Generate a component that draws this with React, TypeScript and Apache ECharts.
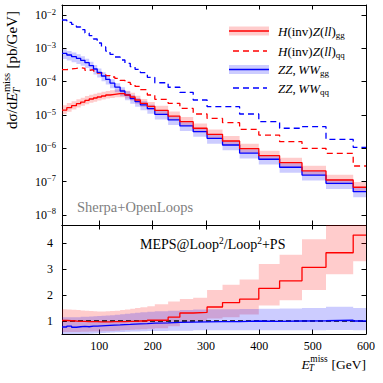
import React, { useEffect, useRef } from 'react';
import * as echarts from 'echarts';

// ---------------- data ----------------
const binEdges = [30, 39, 48, 57, 65, 73, 81, 89, 96, 104, 112, 120, 129, 139, 148, 158, 167, 177, 190, 204, 229, 251, 276, 302, 331, 363, 399, 438, 480, 525, 576, 600];

// H(inv)Z(ll) gg  [pb/GeV]
const hzGG = [1.41e-5, 1.66e-5, 1.91e-5, 2.19e-5, 2.45e-5, 2.75e-5, 3.02e-5, 3.24e-5, 3.47e-5, 3.72e-5, 3.98e-5, 4.17e-5, 4.37e-5, 4.37e-5, 3.98e-5, 3.47e-5, 2.82e-5, 2.24e-5, 1.82e-5, 1.38e-5, 9.3e-6, 6.3e-6, 4.0e-6, 2.63e-6, 1.66e-6, 9.8e-7, 6.0e-7, 3.7e-7, 2.1e-7, 1.12e-7, 6.8e-8];
const hzGGBandHi = [1.38, 1.37, 1.36, 1.35, 1.35, 1.34, 1.34, 1.34, 1.33, 1.33, 1.33, 1.33, 1.33, 1.34, 1.34, 1.35, 1.35, 1.36, 1.36, 1.37, 1.38, 1.38, 1.39, 1.4, 1.4, 1.41, 1.41, 1.42, 1.42, 1.43, 1.43];
const hzGGBandLo = [0.76, 0.76, 0.76, 0.77, 0.77, 0.77, 0.77, 0.77, 0.78, 0.78, 0.78, 0.78, 0.78, 0.78, 0.78, 0.78, 0.77, 0.77, 0.77, 0.77, 0.76, 0.76, 0.76, 0.76, 0.75, 0.75, 0.75, 0.75, 0.75, 0.74, 0.74];
// H(inv)Z(ll) qq
const hzQQ = [2.29e-4, 2.4e-4, 2.51e-4, 2.63e-4, 2.51e-4, 2.19e-4, 2.29e-4, 2.09e-4, 1.82e-4, 1.74e-4, 1.51e-4, 1.38e-4, 1.26e-4, 1.1e-4, 9.5e-5, 8.3e-5, 7.2e-5, 5.75e-5, 3.98e-5, 2.95e-5, 2.24e-5, 1.58e-5, 1.07e-5, 7.9e-6, 5.9e-6, 3.7e-6, 2.5e-6, 1.58e-6, 1.0e-6, 7.1e-7, 2.95e-7];
// ZZ,WW gg
const vvGG = [7.08e-4, 6.31e-4, 5.62e-4, 5.01e-4, 4.37e-4, 3.72e-4, 3.02e-4, 2.4e-4, 1.91e-4, 1.48e-4, 1.17e-4, 9.1e-5, 6.9e-5, 5.25e-5, 3.98e-5, 3.09e-5, 2.51e-5, 2.0e-5, 1.55e-5, 1.05e-5, 7.1e-6, 4.7e-6, 3.16e-6, 2.0e-6, 1.26e-6, 7.2e-7, 4.7e-7, 2.7e-7, 1.58e-7, 8.9e-8, 5.0e-8];
const vvGGBandHi = [1.33, 1.33, 1.33, 1.32, 1.32, 1.32, 1.31, 1.31, 1.31, 1.3, 1.3, 1.3, 1.3, 1.3, 1.3, 1.3, 1.3, 1.3, 1.3, 1.3, 1.3, 1.3, 1.3, 1.3, 1.3, 1.3, 1.31, 1.31, 1.31, 1.32, 1.32];
const vvGGBandLo = [0.68, 0.68, 0.68, 0.68, 0.69, 0.69, 0.69, 0.69, 0.7, 0.7, 0.7, 0.7, 0.7, 0.7, 0.7, 0.7, 0.7, 0.7, 0.7, 0.7, 0.7, 0.7, 0.7, 0.69, 0.69, 0.69, 0.69, 0.69, 0.68, 0.68, 0.68];
// ZZ,WW qq
const vvQQ = [7.1e-3, 6.0e-3, 5.25e-3, 4.37e-3, 3.63e-3, 2.88e-3, 2.4e-3, 1.91e-3, 1.45e-3, 1.1e-3, 8.3e-4, 6.6e-4, 5.5e-4, 4.47e-4, 3.55e-4, 2.82e-4, 2.34e-4, 1.86e-4, 1.35e-4, 9.3e-5, 6.8e-5, 4.8e-5, 2.82e-5, 1.78e-5, 1.78e-5, 1.07e-5, 6.3e-6, 4.0e-6, 4.47e-6, 1.86e-6, 1.07e-6];

// ratio MEPS@Loop2 / Loop2+PS
const ratioHZ = [1.02, 1.01, 1.0, 0.99, 0.99, 0.98, 0.98, 0.98, 0.97, 0.97, 0.97, 0.98, 0.98, 0.98, 0.99, 0.99, 1.0, 1.0, 1.03, 1.03, 1.15, 1.31, 1.33, 1.54, 1.71, 1.84, 2.26, 2.55, 3.07, 3.63, 4.31];
const ratioHZHi = [1.45, 1.44, 1.43, 1.42, 1.41, 1.4, 1.39, 1.38, 1.37, 1.37, 1.38, 1.39, 1.4, 1.42, 1.44, 1.47, 1.5, 1.53, 1.57, 1.65, 1.75, 1.85, 1.9, 2.2, 2.4, 2.6, 3.2, 3.55, 4.15, 4.9, 5.5];
const ratioHZLo = [0.58, 0.58, 0.58, 0.58, 0.59, 0.59, 0.6, 0.6, 0.6, 0.61, 0.61, 0.62, 0.63, 0.64, 0.65, 0.66, 0.67, 0.68, 0.7, 0.72, 0.8, 0.92, 1.0, 1.1, 1.15, 1.25, 1.6, 1.8, 2.2, 2.8, 3.3];
const ratioVV = [0.77, 0.8, 0.76, 0.78, 0.79, 0.78, 0.8, 0.8, 0.81, 0.82, 0.83, 0.84, 0.85, 0.86, 0.87, 0.88, 0.89, 0.9, 0.92, 0.93, 0.95, 0.96, 0.97, 0.98, 0.98, 1.0, 0.99, 1.0, 1.01, 1.03, 1.0];
const ratioVVHi = [1.15, 1.15, 1.15, 1.15, 1.16, 1.16, 1.17, 1.18, 1.19, 1.2, 1.21, 1.22, 1.24, 1.26, 1.28, 1.3, 1.32, 1.34, 1.36, 1.38, 1.4, 1.42, 1.44, 1.45, 1.45, 1.46, 1.47, 1.48, 1.5, 1.55, 1.5];
const ratioVVLo = [0.48, 0.48, 0.48, 0.49, 0.5, 0.5, 0.51, 0.52, 0.53, 0.54, 0.55, 0.56, 0.57, 0.58, 0.59, 0.6, 0.6, 0.61, 0.62, 0.62, 0.63, 0.63, 0.64, 0.64, 0.64, 0.64, 0.64, 0.64, 0.64, 0.65, 0.64];

const xRange = [30, 600];
const yRangeTop = [5e-9, 0.02];
const yRangeRatio = [0.5, 4.7];
const ratioRef = 1;

// ---------------- styles ----------------
const FONT = 'Liberation Serif';
const RED = '#ff0000';
const BLUE = '#0000ff';
const RED_BAND = 'rgba(255,0,0,0.2)';
const BLUE_BAND = 'rgba(0,0,255,0.2)';
const DASH = [6, 4];

function measure(text: string, size: number, italic = false) {
  const ctx = document.createElement('canvas').getContext('2d')!;
  ctx.font = `${italic ? 'italic ' : ''}${size}px "${FONT}"`;
  return ctx.measureText(text).width;
}

function stepData(vals: number[]) {
  const d = vals.map((v, i) => [binEdges[i], v]);
  d.push([binEdges[vals.length], vals[vals.length - 1]]);
  return d;
}

function bandSeries(lo: number[], hi: number[], color: string, axisIdx: number, anchorY: number) {
  return {
    type: 'custom',
    xAxisIndex: axisIdx,
    yAxisIndex: axisIdx,
    silent: true,
    z: 1,
    data: [[xRange[0], anchorY]],
    renderItem: (params: any, api: any) => {
      const cs = params.coordSys;
      const clampY = (p: number[]) => [p[0], Math.max(cs.y, Math.min(cs.y + cs.height, p[1]))];
      const pts: number[][] = [];
      for (let i = 0; i < hi.length; i++) {
        pts.push(clampY(api.coord([binEdges[i], hi[i]])));
        pts.push(clampY(api.coord([binEdges[i + 1], hi[i]])));
      }
      for (let i = lo.length - 1; i >= 0; i--) {
        pts.push(clampY(api.coord([binEdges[i + 1], lo[i]])));
        pts.push(clampY(api.coord([binEdges[i], lo[i]])));
      }
      return { type: 'polygon', shape: { points: pts }, style: { fill: color, stroke: 'none' } };
    },
  };
}

function lineSeries(vals: number[], color: string, dashed: boolean, axisIdx: number, z = 3) {
  return {
    type: 'line',
    xAxisIndex: axisIdx,
    yAxisIndex: axisIdx,
    step: 'end',
    showSymbol: false,
    silent: true,
    z,
    data: stepData(vals),
    lineStyle: { color, width: 1.3, type: dashed ? DASH : 'solid' },
  };
}

function txt(text: string, x: number, y: number, size: number, italic = false, fill = '#000') {
  return {
    type: 'text',
    x,
    y,
    silent: true,
    style: {
      text,
      fontSize: size,
      fontFamily: FONT,
      fontStyle: italic ? 'italic' : 'normal',
      fill,
      align: 'left',
      verticalAlign: 'middle',
    },
  };
}

// E_T^miss pieces, starting at x0, centred at y0 (local coords)
function emissPieces(x0: number, y0: number, fs: number) {
  const ss = fs * 0.7;
  const els: any[] = [];
  let x = x0;
  els.push(txt('E', x, y0, fs, true));
  x += measure('E', fs, true);
  els.push(txt('miss', x + 0.5, y0 - fs * 0.4, ss));
  els.push(txt('T', x - 1, y0 + fs * 0.32, ss, true));
  x += measure('miss', ss) + 1;
  return { els, x };
}

function buildOption() {
  const log10Rich = {
    b: { fontSize: 12, fontFamily: FONT, color: '#000', lineHeight: 16 },
    e: { fontSize: 8.5, fontFamily: FONT, color: '#000', lineHeight: 7, verticalAlign: 'top' },
  };
  const axisLine = { show: true, onZero: false, lineStyle: { color: '#000', width: 1 } };
  const axisTick = { show: true, inside: true, length: 4.5, lineStyle: { color: '#000', width: 1 } };
  const xBase = (gridIndex: number, position: string, showLabel: boolean) => ({
    type: 'value',
    gridIndex,
    position,
    min: xRange[0],
    max: xRange[1],
    splitNumber: 6,
    axisLine,
    axisTick,
    splitLine: { show: false },
    axisLabel: {
      show: showLabel,
      showMinLabel: false,
      fontSize: 12,
      fontFamily: FONT,
      color: '#000',
      margin: 6,
    },
  });
  const yTop = (position: string, showLabel: boolean) => ({
    type: 'log',
    logBase: 10,
    gridIndex: 0,
    position,
    min: yRangeTop[0],
    max: yRangeTop[1],
    axisLine,
    axisTick,
    splitLine: { show: false },
    axisLabel: {
      show: showLabel,
      showMinLabel: false,
      showMaxLabel: false,
      margin: 6,
      formatter: (v: number) => `{b|10}{e|\u2212${Math.abs(Math.round(Math.log10(v)))}}`,
      rich: log10Rich,
    },
  });
  const yBot = (position: string, showLabel: boolean) => ({
    type: 'value',
    gridIndex: 1,
    position,
    min: yRangeRatio[0],
    max: yRangeRatio[1],
    splitNumber: 4,
    axisLine,
    axisTick,
    splitLine: { show: false },
    axisLabel: {
      show: showLabel,
      showMinLabel: false,
      showMaxLabel: false,
      fontSize: 12,
      fontFamily: FONT,
      color: '#000',
      margin: 9,
    },
  });

  // legend
  const legendRich = {
    i: { fontSize: 13, fontFamily: FONT, fontStyle: 'italic', color: '#000', lineHeight: 16 },
    r: { fontSize: 13, fontFamily: FONT, color: '#000', lineHeight: 16 },
    s: { fontSize: 9, fontFamily: FONT, color: '#000', lineHeight: 9, verticalAlign: 'bottom' },
  };
  const legendRows = [
    { y: 31, color: RED, band: RED_BAND, dashed: false, text: '{i|H}{r|(inv)}{i|Z}{r|(}{i|ll}{r|)}{s|gg}' },
    { y: 51, color: RED, band: '', dashed: true, text: '{i|H}{r|(inv)}{i|Z}{r|(}{i|ll}{r|)}{s|qq}' },
    { y: 69.5, color: BLUE, band: BLUE_BAND, dashed: false, text: '{i|ZZ}{r|,\u2009}{i|WW}{s|gg}' },
    { y: 88, color: BLUE, band: '', dashed: true, text: '{i|ZZ}{r|,\u2009}{i|WW}{s|qq}' },
  ];
  const legendEls: any[] = [];
  legendRows.forEach((r) => {
    if (r.band) {
      legendEls.push({ type: 'rect', silent: true, shape: { x: 229, y: r.y - 4.5, width: 40, height: 9 }, style: { fill: r.band } });
    }
    legendEls.push({
      type: 'line',
      silent: true,
      shape: { x1: r.dashed ? 233 : 229, y1: r.y, x2: r.dashed ? 267 : 269, y2: r.y },
      style: { stroke: r.color, lineWidth: 1.3, lineDash: r.dashed ? DASH : null },
    });
    legendEls.push({
      type: 'text',
      silent: true,
      x: 278,
      y: r.y,
      style: { text: r.text, rich: legendRich, align: 'left', verticalAlign: 'middle' },
    });
  });

  // y axis title (rotated)
  const yfs = 15;
  const yEls: any[] = [];
  yEls.push(txt('d\u03c3/d', 0, 0, yfs));
  let cx = measure('d\u03c3/d', yfs);
  const em = emissPieces(cx, 0, yfs);
  yEls.push(...em.els);
  cx = em.x;
  yEls.push(txt(' [pb/GeV]', cx, 0, yfs));

  // x axis title
  const xfs = 13.5;
  const xTitleW = measure('E', xfs, true) + measure('miss', xfs * 0.7) + 1 + measure(' [GeV]', xfs);
  const xx0 = 366 - xTitleW;
  const xem = emissPieces(xx0, 364, xfs);
  const xEls = [...xem.els, txt(' [GeV]', xem.x, 364, xfs)];

  const graphic = [
    ...legendEls,
    { type: 'group', x: 12, y: 129, rotation: Math.PI / 2, children: yEls, silent: true },
    ...xEls,
    txt('Sherpa+OpenLoops', 77, 207, 14.5, false, '#7f7f7f'),
    {
      type: 'text',
      silent: true,
      x: 140,
      y: 244,
      style: {
        text: '{m|MEPS@Loop}{p|2}{m|/Loop}{p|2}{m|+PS}',
        align: 'left',
        verticalAlign: 'middle',
        rich: {
          m: { fontSize: 14, fontFamily: FONT, color: '#000', lineHeight: 17 },
          p: { fontSize: 9.5, fontFamily: FONT, color: '#000', lineHeight: 9, verticalAlign: 'top' },
        },
      },
    },
  ];

  return {
    animation: false,
    backgroundColor: '#fff',
    grid: [
      { left: 62, top: 5, width: 304, height: 220, show: false },
      { left: 62, top: 225, width: 304, height: 109, show: false },
    ],
    xAxis: [xBase(0, 'bottom', false), xBase(0, 'top', false), xBase(1, 'bottom', true), xBase(1, 'top', false)],
    yAxis: [yTop('left', true), yTop('right', false), yBot('left', true), yBot('right', false)],
    series: [
      bandSeries(hzGG.map((v, i) => v * hzGGBandLo[i]), hzGG.map((v, i) => v * hzGGBandHi[i]), RED_BAND, 0, 1e-5),
      bandSeries(vvGG.map((v, i) => v * vvGGBandLo[i]), vvGG.map((v, i) => v * vvGGBandHi[i]), BLUE_BAND, 0, 1e-5),
      lineSeries(hzQQ, RED, true, 0),
      lineSeries(vvQQ, BLUE, true, 0),
      lineSeries(vvGG, BLUE, false, 0, 4),
      lineSeries(hzGG, RED, false, 0, 4),
      bandSeries(ratioHZLo, ratioHZHi, RED_BAND, 2, 1),
      bandSeries(ratioVVLo, ratioVVHi, BLUE_BAND, 2, 1),
      {
        type: 'line',
        xAxisIndex: 2,
        yAxisIndex: 2,
        showSymbol: false,
        silent: true,
        z: 2,
        data: [[xRange[0], ratioRef], [xRange[1], ratioRef]],
        lineStyle: { color: '#000', width: 1.5, type: [5, 3] },
      },
      lineSeries(ratioHZ, RED, false, 2, 4),
      lineSeries(ratioVV, BLUE, false, 2, 4),
    ],
    graphic,
  };
}

export default function App() {
  const ref = useRef<HTMLDivElement>(null);
  useEffect(() => {
    const chart = echarts.init(ref.current!, null, { renderer: 'svg' });
    chart.setOption(buildOption() as any);
    return () => chart.dispose();
  }, []);
  return (
    <div
      ref={ref}
      style={{ position: 'fixed', left: 0, top: 0, width: 383, height: 383, background: '#fff' }}
    />
  );
}
